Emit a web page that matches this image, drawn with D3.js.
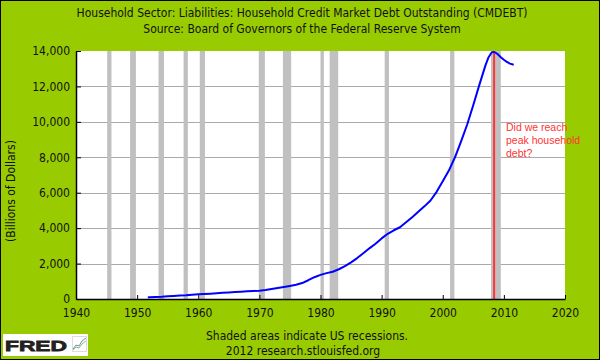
<!DOCTYPE html>
<html>
<head>
<meta charset="utf-8">
<script src="https://cdn.jsdelivr.net/npm/d3@7"></script>
<style>
  html, body { margin: 0; padding: 0; background: #99cc00; }
  svg { display: block; }
  .cond { font-family: "DejaVu Sans Condensed", "DejaVu Sans", sans-serif; font-stretch: condensed; }
</style>
</head>
<body>
<svg id="chart" width="600" height="360"></svg>
<script>
const titleLines = [
  "Household Sector: Liabilities: Household Credit Market Debt Outstanding (CMDEBT)",
  "Source: Board of Governors of the Federal Reserve System"
];
const yLabel = "(Billions of Dollars)";
const footerLines = ["Shaded areas indicate US recessions.", "2012 research.stlouisfed.org"];
const annotationLines = ["Did we reach", "peak household", "debt?"];

const xTicks = [1940, 1950, 1960, 1970, 1980, 1990, 2000, 2010, 2020];
const yTicks = [0, 2000, 4000, 6000, 8000, 10000, 12000, 14000];

const recessionStart = [1945.1, 1948.85, 1953.5, 1957.6, 1960.25, 1969.9, 1973.85, 1980.0, 1981.5, 1990.5, 2001.2, 2007.9];
const recessionEnd   = [1945.8, 1949.8, 1954.4, 1958.3, 1961.1, 1970.9, 1975.2, 1980.55, 1982.9, 1991.2, 2001.9, 2009.5];

const years = [1951.75, 1952, 1953, 1954, 1955, 1956, 1957, 1958, 1959, 1960,
  1961, 1962, 1963, 1964, 1965, 1966, 1967, 1968, 1969, 1970,
  1971, 1972, 1973, 1974, 1975, 1976, 1977, 1978, 1979, 1980,
  1981, 1982, 1983, 1984, 1985, 1986, 1987, 1988, 1989, 1990,
  1991, 1992, 1993, 1994, 1995, 1996, 1997, 1998, 1999, 2000,
  2001, 2002, 2003, 2004, 2005, 2006, 2007, 2007.5, 2008, 2008.25,
  2008.5, 2009, 2009.5, 2010, 2010.5, 2011, 2011.6];
const debt = [85, 95, 110, 125, 150, 175, 195, 210, 240, 262,
  280, 300, 325, 350, 372, 392, 412, 435, 455, 472,
  510, 565, 620, 675, 734, 800, 900, 1060, 1230, 1360,
  1460, 1540, 1680, 1860, 2070, 2310, 2580, 2860, 3120, 3420,
  3680, 3880, 4050, 4330, 4620, 4920, 5230, 5560, 6050, 6650,
  7250, 8000, 8900, 9850, 10950, 12100, 13200, 13650, 13920, 13950,
  13930, 13820, 13650, 13510, 13380, 13290, 13220];

const peakYear = 2008.4;

const W = 600, H = 360;
const margin = { left: 76, right: 565, top: 51, bottom: 299 };

const svg = d3.select("#chart");

// background + frame
svg.append("rect").attr("x", 0.5).attr("y", 0.5).attr("width", W - 1).attr("height", H - 1)
  .attr("fill", "#99cc00").attr("stroke", "#000").attr("stroke-width", 1);

const x = d3.scaleLinear().domain([1940, 2020]).range([margin.left, margin.right]);
const y = d3.scaleLinear().domain([0, 14000]).range([margin.bottom, margin.top]);

// plot area
svg.append("rect").attr("x", margin.left).attr("y", margin.top)
  .attr("width", margin.right - margin.left).attr("height", margin.bottom - margin.top)
  .attr("fill", "#fff");

// grid
svg.append("g").selectAll("line").data(yTicks.filter(d => d > 0 && d < 14000)).join("line")
  .attr("x1", margin.left).attr("x2", margin.right)
  .attr("y1", d => Math.round(y(d)) + 0.5).attr("y2", d => Math.round(y(d)) + 0.5)
  .attr("stroke", "#aaaaaa").attr("stroke-width", 1);

// recessions
svg.append("g").selectAll("rect").data(recessionStart.map((s, i) => [s, recessionEnd[i]])).join("rect")
  .attr("x", d => x(d[0])).attr("width", d => x(d[1]) - x(d[0]))
  .attr("y", margin.top).attr("height", margin.bottom - margin.top)
  .attr("fill", "#c0c0c0");

// red marker line
svg.append("line").attr("x1", x(peakYear)).attr("x2", x(peakYear))
  .attr("y1", margin.top).attr("y2", margin.bottom)
  .attr("stroke", "#ff3333").attr("stroke-width", 2);

// data line
const line = d3.line().x(d => x(d[0])).y(d => y(d[1]));
svg.append("path").datum(years.map((yr, i) => [yr, debt[i]]))
  .attr("d", line).attr("fill", "none").attr("stroke", "#0000ff").attr("stroke-width", 2)
  .attr("stroke-linejoin", "round");

// axes
const xAxis = d3.axisBottom(x).tickValues(xTicks).tickFormat(d3.format("d"))
  .tickSizeInner(-4).tickSizeOuter(0).tickPadding(9);
const gx = svg.append("g").attr("transform", `translate(0,${margin.bottom})`).call(xAxis);
gx.select(".domain").attr("stroke", "#000").attr("stroke-width", 1.5);
gx.selectAll(".tick line").attr("stroke", "#000");
gx.selectAll("text").attr("class", "cond").attr("font-size", 12).attr("fill", "#111");

const yAxis = d3.axisLeft(y).tickValues(yTicks).tickFormat(d3.format(","))
  .tickSizeInner(-5).tickSizeOuter(0).tickPadding(6);
const gy = svg.append("g").attr("transform", `translate(${margin.left},0)`).call(yAxis);
gy.select(".domain").attr("stroke", "#000").attr("stroke-width", 1.5);
gy.selectAll(".tick line").attr("stroke", "#000");
gy.selectAll("text").attr("class", "cond").attr("font-size", 12).attr("fill", "#111");

// y label
svg.append("text").attr("class", "cond").attr("font-size", 12).attr("fill", "#111")
  .attr("text-anchor", "middle")
  .attr("transform", "translate(15,191) rotate(-90)")
  .text(yLabel);

// titles
svg.append("g").selectAll("text").data(titleLines).join("text")
  .attr("class", "cond").attr("font-size", 12).attr("fill", "#111")
  .attr("text-anchor", "middle").attr("x", 302).attr("y", (d, i) => 17 + i * 15.5)
  .text(d => d);

// footer
svg.append("g").selectAll("text").data(footerLines).join("text")
  .attr("class", "cond").attr("font-size", 12).attr("fill", "#111")
  .attr("text-anchor", "middle").attr("x", (d, i) => i === 0 ? 307 : 303).attr("y", (d, i) => 340 + i * 14.5)
  .text(d => d);

// annotation
svg.append("g").selectAll("text").data(annotationLines).join("text")
  .attr("font-family", "'Liberation Sans', Arial, sans-serif").attr("font-size", 10.5)
  .attr("fill", "#ff3333").attr("x", 506).attr("y", (d, i) => 131 + i * 13)
  .text(d => d);

// FRED logo
const logo = svg.append("g");
logo.append("rect").attr("x", 3).attr("y", 334).attr("width", 85).attr("height", 22).attr("fill", "#fff");
logo.append("text").attr("x", 5).attr("y", 350.5)
  .attr("font-family", "'Liberation Sans', Arial, sans-serif").attr("font-weight", "bold")
  .attr("font-size", 15.5).attr("fill", "#231f20")
  .attr("textLength", 62).attr("lengthAdjust", "spacingAndGlyphs").attr("stroke", "#231f20").attr("stroke-width", 0.8)
  .text("FRED");
logo.append("rect").attr("x", 72.5).attr("y", 336.5).attr("width", 14).attr("height", 15)
  .attr("fill", "#fff").attr("stroke", "#ddd");
logo.append("polyline").attr("points", "73,350 76,347 79,348 82,344 86,341")
  .attr("fill", "none").attr("stroke", "#8fbf5a").attr("stroke-width", 1);
logo.append("polyline").attr("points", "73,349 76,345 79,346 82,341 86,338")
  .attr("fill", "none").attr("stroke", "#6a8fcf").attr("stroke-width", 1);
</script>
</body>
</html>
